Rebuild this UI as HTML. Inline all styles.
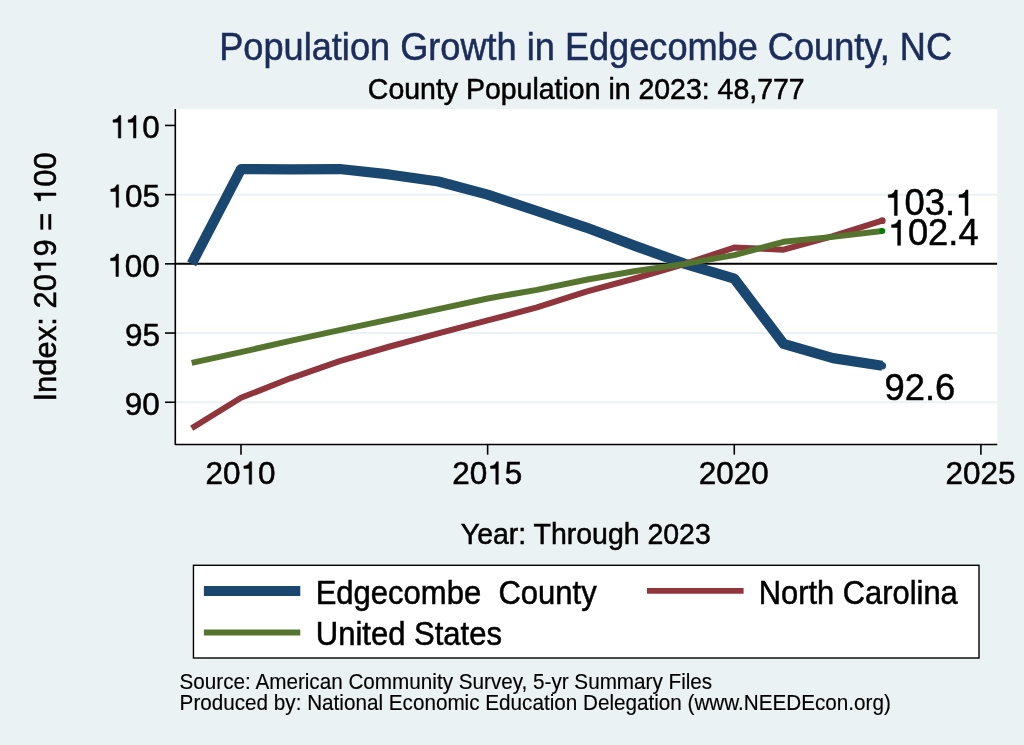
<!DOCTYPE html>
<html><head><meta charset="utf-8"><style>
html,body{margin:0;padding:0;background:#EAF2F3;overflow:hidden;}
svg{display:block;will-change:transform;}
text{font-family:"Liberation Sans", sans-serif;font-kerning:normal;}
</style></head><body>
<svg width="1024" height="745" viewBox="0 0 1024 745">
<rect x="0" y="0" width="1024" height="745" fill="#EAF2F3"/>
<rect x="175.4" y="109.1" width="821.9" height="335.2" fill="#FFFFFF"/>
<g stroke="#EAF2F3" stroke-width="2" fill="none">
<line x1="176" y1="194.65" x2="997.1" y2="194.65"/>
<line x1="176" y1="333.05" x2="997.1" y2="333.05"/>
<line x1="176" y1="402.25" x2="997.1" y2="402.25"/>
</g>
<line x1="176" y1="263.85" x2="997.1" y2="263.85" stroke="#000" stroke-width="2"/>
<g stroke="#000" stroke-width="1.6" fill="none">
<polyline points="175.3,109.1 175.3,444.5 997.3,444.5" stroke-linejoin="round"/>
<line x1="165" y1="125.45" x2="175.3" y2="125.45"/>
<line x1="165" y1="194.65" x2="175.3" y2="194.65"/>
<line x1="165" y1="263.85" x2="175.3" y2="263.85"/>
<line x1="165" y1="333.05" x2="175.3" y2="333.05"/>
<line x1="165" y1="402.25" x2="175.3" y2="402.25"/>
<line x1="241.00" y1="444.5" x2="241.00" y2="454.7"/>
<line x1="487.63" y1="444.5" x2="487.63" y2="454.7"/>
<line x1="734.27" y1="444.5" x2="734.27" y2="454.7"/>
<line x1="980.90" y1="444.5" x2="980.90" y2="454.7"/>
</g>
<polyline points="191.67,263.85 241.00,169.18 290.33,169.32 339.65,169.05 388.98,174.44 438.31,181.50 487.63,194.65 536.96,210.98 586.29,227.59 635.61,246.13 684.94,263.85 734.27,278.66 783.59,343.85 832.92,358.10 882.25,365.71" fill="none" stroke="#1A476F" stroke-width="10.2" stroke-linejoin="round"/>
<circle cx="882.25" cy="365.71" r="3.8" fill="#1A476F"/>
<polyline points="191.67,428.27 241.00,397.82 290.33,378.31 339.65,361.08 388.98,346.75 438.31,333.33 487.63,320.46 536.96,307.45 586.29,291.53 635.61,278.24 684.94,263.85 734.27,247.56 783.59,249.73 832.92,236.03 882.25,220.67" fill="none" stroke="#90353B" stroke-width="6" stroke-linejoin="round"/>
<circle cx="882.25" cy="220.67" r="3.4" fill="#90353B"/>
<polyline points="191.67,362.94 241.00,352.15 290.33,340.94 339.65,330.14 388.98,319.69 438.31,309.11 487.63,298.45 536.96,289.87 586.29,279.77 635.61,271.05 684.94,263.85 734.27,255.13 783.59,241.84 832.92,236.86 882.25,230.91" fill="none" stroke="#55752F" stroke-width="6" stroke-linejoin="round"/>
<circle cx="882.25" cy="230.91" r="3" fill="#008000"/>
<text xml:space="preserve" x="0.00 15.18 32.70" transform="translate(109.67,138.10) scale(1,1.02)" font-size="31.500" fill="#000" stroke="#000" stroke-width="0.5">  0</text>
<path d="M354,0 L274,0 L274,492 L106,492 L106,568 C185,574 265,596 295,700 L354,700 Z" transform="translate(109.67,138.10) scale(0.03150,-0.03213)" fill="#000" stroke="#000" stroke-width="0.5" vector-effect="non-scaling-stroke"/>
<path d="M354,0 L274,0 L274,492 L106,492 L106,568 C185,574 265,596 295,700 L354,700 Z" transform="translate(124.85,138.10) scale(0.03150,-0.03213)" fill="#000" stroke="#000" stroke-width="0.5" vector-effect="non-scaling-stroke"/>
<text xml:space="preserve" x="0.00 17.52 35.04" transform="translate(107.46,207.30) scale(1,1.02)" font-size="31.500" fill="#000" stroke="#000" stroke-width="0.5"> 05</text>
<path d="M354,0 L274,0 L274,492 L106,492 L106,568 C185,574 265,596 295,700 L354,700 Z" transform="translate(107.46,207.30) scale(0.03150,-0.03213)" fill="#000" stroke="#000" stroke-width="0.5" vector-effect="non-scaling-stroke"/>
<text xml:space="preserve" x="0.00 17.52 35.04" transform="translate(107.31,276.50) scale(1,1.02)" font-size="31.500" fill="#000" stroke="#000" stroke-width="0.5"> 00</text>
<path d="M354,0 L274,0 L274,492 L106,492 L106,568 C185,574 265,596 295,700 L354,700 Z" transform="translate(107.31,276.50) scale(0.03150,-0.03213)" fill="#000" stroke="#000" stroke-width="0.5" vector-effect="non-scaling-stroke"/>
<text xml:space="preserve" transform="translate(124.94,345.70) scale(1,1.02)" font-size="31.500" fill="#000" stroke="#000" stroke-width="0.5">95</text>
<text xml:space="preserve" transform="translate(124.79,414.90) scale(1,1.02)" font-size="31.500" fill="#000" stroke="#000" stroke-width="0.5">90</text>
<text xml:space="preserve" x="0.00 17.52 35.04 52.56" transform="translate(205.50,484.25) scale(1,1.02)" font-size="31.500" fill="#000" stroke="#000" stroke-width="0.5">20 0</text>
<path d="M354,0 L274,0 L274,492 L106,492 L106,568 C185,574 265,596 295,700 L354,700 Z" transform="translate(240.54,484.25) scale(0.03150,-0.03213)" fill="#000" stroke="#000" stroke-width="0.5" vector-effect="non-scaling-stroke"/>
<text xml:space="preserve" x="0.00 17.52 35.04 52.56" transform="translate(452.13,484.25) scale(1,1.02)" font-size="31.500" fill="#000" stroke="#000" stroke-width="0.5">20 5</text>
<path d="M354,0 L274,0 L274,492 L106,492 L106,568 C185,574 265,596 295,700 L354,700 Z" transform="translate(487.17,484.25) scale(0.03150,-0.03213)" fill="#000" stroke="#000" stroke-width="0.5" vector-effect="non-scaling-stroke"/>
<text xml:space="preserve" transform="translate(698.77,484.25) scale(1,1.02)" font-size="31.500" fill="#000" stroke="#000" stroke-width="0.5">2020</text>
<text xml:space="preserve" transform="translate(945.40,484.25) scale(1,1.02)" font-size="31.500" fill="#000" stroke="#000" stroke-width="0.5">2025</text>
<text xml:space="preserve" transform="translate(219.26,59.55) scale(1,1.055)" font-size="36.154" fill="#1C2C5B" stroke="#1C2C5B" stroke-width="0.5">Population Growth in Edgecombe County, NC</text>
<text xml:space="preserve" transform="translate(367.83,98.95) scale(1,1.05)" font-size="28.481" fill="#000" stroke="#000" stroke-width="0.5">County Population in 2023: 48,777</text>
<g transform="translate(56.2,399.0) rotate(-90)"><text xml:space="preserve" x="0.00 8.62 25.88 43.14 60.40 75.91 84.53 93.15 110.41 127.67 144.93 162.19 170.81 188.93 197.55 214.81 232.07" transform="translate(-2.54,-0.25) scale(1,1.0)" font-size="31.031" fill="#000" stroke="#000" stroke-width="0.5">Index: 20 9 =  00</text>
<path d="M354,0 L274,0 L274,492 L106,492 L106,568 C185,574 265,596 295,700 L354,700 Z" transform="translate(125.13,-0.25) scale(0.03103,-0.03103)" fill="#000" stroke="#000" stroke-width="0.5" vector-effect="non-scaling-stroke"/>
<path d="M354,0 L274,0 L274,492 L106,492 L106,568 C185,574 265,596 295,700 L354,700 Z" transform="translate(195.01,-0.25) scale(0.03103,-0.03103)" fill="#000" stroke="#000" stroke-width="0.5" vector-effect="non-scaling-stroke"/>
</g>
<text xml:space="preserve" transform="translate(460.84,543.75) scale(1,1.045)" font-size="28.457" fill="#000" stroke="#000" stroke-width="0.5">Year: Through 2023</text>
<text xml:space="preserve" x="0.00 20.22 40.43 60.65 70.75" transform="translate(884.40,215.45) scale(1,1.0)" font-size="36.350" fill="#000" stroke="#000" stroke-width="0.5"> 03. </text>
<path d="M354,0 L274,0 L274,492 L106,492 L106,568 C185,574 265,596 295,700 L354,700 Z" transform="translate(884.40,215.45) scale(0.03635,-0.03635)" fill="#000" stroke="#000" stroke-width="0.5" vector-effect="non-scaling-stroke"/>
<path d="M354,0 L274,0 L274,492 L106,492 L106,568 C185,574 265,596 295,700 L354,700 Z" transform="translate(955.14,215.45) scale(0.03635,-0.03635)" fill="#000" stroke="#000" stroke-width="0.5" vector-effect="non-scaling-stroke"/>
<text xml:space="preserve" x="0.00 20.22 40.43 60.65 70.75" transform="translate(887.68,245.35) scale(1,1.0)" font-size="36.350" fill="#000" stroke="#000" stroke-width="0.5"> 02.4</text>
<path d="M354,0 L274,0 L274,492 L106,492 L106,568 C185,574 265,596 295,700 L354,700 Z" transform="translate(887.68,245.35) scale(0.03635,-0.03635)" fill="#000" stroke="#000" stroke-width="0.5" vector-effect="non-scaling-stroke"/>
<text xml:space="preserve" transform="translate(884.51,399.55) scale(1,1.0)" font-size="36.334" fill="#000" stroke="#000" stroke-width="0.5">92.6</text>
<rect x="193.45" y="565.27" width="785.55" height="92.73" fill="#FFFFFF" stroke="#000" stroke-width="1.4"/>
<line x1="203.9" y1="591.0" x2="300.3" y2="591.0" stroke="#1A476F" stroke-width="9.9"/>
<line x1="203.9" y1="632.55" x2="300.3" y2="632.55" stroke="#55752F" stroke-width="5.9"/>
<line x1="647.0" y1="590.9" x2="743.6" y2="590.9" stroke="#90353B" stroke-width="5.9"/>
<text xml:space="preserve" transform="translate(315.67,603.55) scale(1,1.06)" font-size="31.019" fill="#000" stroke="#000" stroke-width="0.5">Edgecombe  County</text>
<text xml:space="preserve" transform="translate(315.82,644.65) scale(1,1.06)" font-size="31.019" fill="#000" stroke="#000" stroke-width="0.5">United States</text>
<text xml:space="preserve" transform="translate(758.78,603.55) scale(1,1.06)" font-size="30.872" fill="#000" stroke="#000" stroke-width="0.5">North Carolina</text>
<text xml:space="preserve" transform="translate(179.54,688.72) scale(1,1.03)" font-size="20.683" fill="#000" stroke="#000" stroke-width="0.15">Source: American Community Survey, 5-yr Summary Files</text>
<text xml:space="preserve" transform="translate(179.62,709.72) scale(1,1.03)" font-size="20.679" fill="#000" stroke="#000" stroke-width="0.15">Produced by: National Economic Education Delegation (www.NEEDEcon.org)</text>
</svg>
</body></html>
